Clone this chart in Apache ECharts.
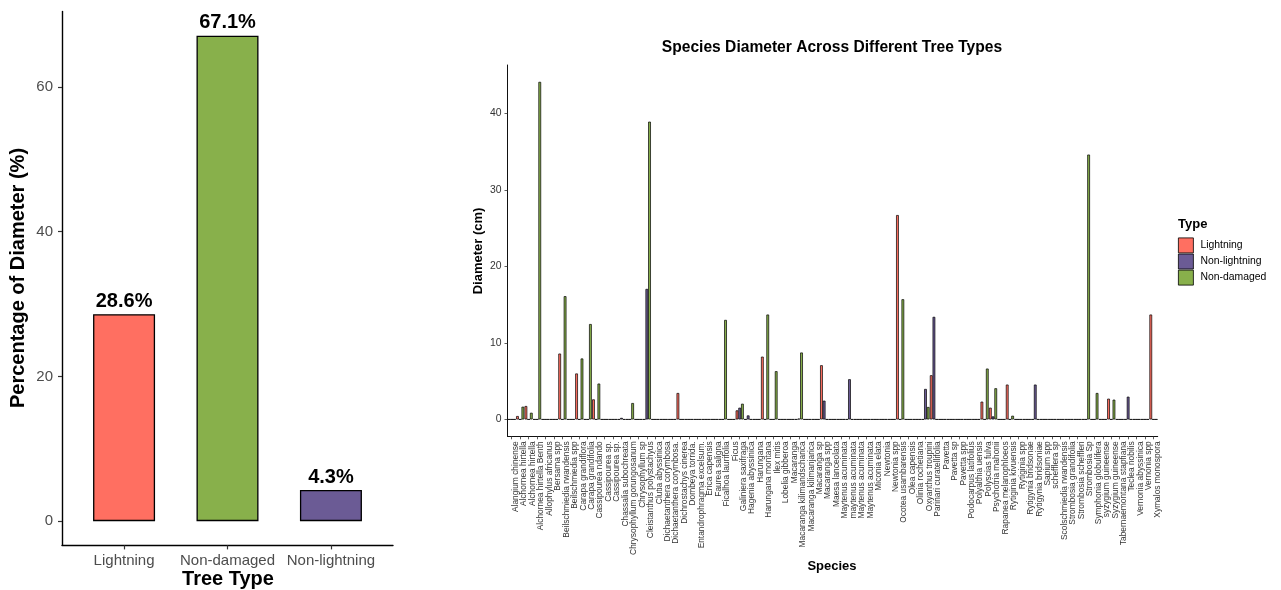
<!DOCTYPE html>
<html>
<head>
<meta charset="utf-8">
<script src="https://cdn.jsdelivr.net/npm/echarts@6/dist/echarts.min.js"></script>
<style>html,body{margin:0;padding:0;background:#fff}#c{width:1281px;height:590px}</style>
</head>
<body>
<div id="c"></div>
<script>
// ---- Left chart data ----
const treeTypes = ['Lightning', 'Non-damaged', 'Non-lightning'];
const pctDiameter = [28.6, 67.1, 4.3];
const leftTicks = [0, 20, 40, 60];

// ---- Right chart data ----
const species = [
 'Alangium chinense','Alchornea hirtella','Alchornea hirtella','Alchornea hirtella Benth','Allophylus africanus',
 'Bersama spp','Beilschmiedia rwandensis','Beilschmiedia spp','Carapa grandiflora','Carapa grandifolia',
 'Cassipourea ndando','Cassipourea sp.','Cassipourea sp.','Chassalia subochreata','Chrysophyllum gorungosanum',
 'Chrysophyllum sp','Cleistanthus polystachyus','Clutia abyssinica','Dichaetanthera corymbosa','Dichaetanthera corymbosa.',
 'Dichrostachys cinerea','Dombeya torrida.','Entandrophragma excelsum.','Erica capensis','Faurea saligna',
 'Ficalhoa laurifolia','Ficus','Galiniera saxifraga','Hagenia abyssinica','Harungana',
 'Harungana montana','Ilex mitis','Lobelia gibberoa','Macaranga','Macaranga kilimandscharica',
 'Macaranga kilimanjarica','Macaranga sp','Macaranga spp','Maesa lanceolata','Maytenus acuminata',
 'maytenus acuminata','Maytenus acuminata','Maytenus acuminata','Miconia elata','Newtonia',
 'Newtonia spp','Ocotea usambarensis','Olea capensis','Olinia rochetiana','Oxyanthus troupini',
 'Parinari curatellifolia','Pavetta','Pavetta sp','Pavetta spp','Podocarpus latifolius',
 'Polyalthia uensis','Polyscias fulva','Psychotria mahonii','Rapanea melanophloeos','Rytiginia kivuensis',
 'Rytiginia spp','Rytigynia bridsonae','Rytigynia bridsoniae','Sapium spp','schefflera sp',
 'Scolschmiedia rwandensis','Strombosia grandifolia','Strombosia scheffleri','Strombosia Sp','Symphonia globulifera',
 'syzygium guineense','Syzygium guineense','Tabernaemontana stapfiana','Teclea nobilis','Vernonia abyssinica',
 'Vernonia spp','Xymalos monospora'
];
const lightning = [
 0,0.44,1.75,0,0,0,8.6,0,6.0,0,
 2.62,0,0,0,0,0,0,0,0,0,
 3.45,0,0,0,0,0,0,1.18,0,0,
 8.2,0,0,0,0,0,0,7.08,0,0,
 0,0,0,0,0,0,26.7,0,0,0,
 5.77,0,0,0,0,0,2.32,1.53,0,4.55,
 0,0,0,0,0,0,0,0,0,0,
 0,2.71,0,0,0,0,13.7
];
const nonLightning = [
 0,0,0,0,0,0,0,0,0,0,
 0,0,0,0.2,0,0,17.05,0,0,0,
 0,0,0,0,0,0,0,1.53,0.52,0,
 0,0,0,0,0.1,0,0,2.45,0,0,
 5.25,0,0,0,0,0,0,0,0,3.98,
 13.4,0,0,0,0,0,0,0.39,0,0,
 0,0,4.55,0,0,0,0,0,0,0,
 0,0,0,2.97,0,0,0
];
const nonDamaged = [
 0,1.66,0.87,44.1,0,0,16.1,0,7.96,12.46,
 4.68,0,0,0,2.14,0,38.9,0,0,0,
 0,0,0,0,0,13.0,0,2.05,0,0,
 13.7,6.3,0,0,8.74,0,0,0,0,0,
 0,0,0,0,0,0,15.7,0,0,1.62,
 0,0,0,0,0,0,6.64,4.07,0,0.48,
 0,0,0,0,0,0,0,0,34.6,3.45,
 0,2.58,0,0,0,0,0
];
const rightTicks = [0, 10, 20, 30, 40];
const typeNames = ['Lightning', 'Non-lightning', 'Non-damaged'];

const COLORS = {'Lightning':'#FF6F61','Non-damaged':'#88B04B','Non-lightning':'#6B5B95'};
const FONT = '"Liberation Sans", Arial, Helvetica, sans-serif';
const GRAY = '#4D4D4D';

const chart = echarts.init(document.getElementById('c'), null, {renderer:'canvas'});

const leftMax = Math.max(...pctDiameter);
const rightMax = Math.max(...lightning, ...nonLightning, ...nonDamaged);

const rightSeriesData = [lightning, nonLightning, nonDamaged];

const option = {
  animation: false,
  textStyle: {fontFamily: FONT},
  grid: [
    {left: 62, top: 11.4, width: 331, height: 534, containLabel: false},
    {left: 507.5, top: 65, width: 650.2, height: 371.3, containLabel: false}
  ],
  xAxis: [
    {
      gridIndex: 0, type: 'value', min: 0.4, max: 3.6,
      splitLine: {show: false},
      axisLine: {show: true, onZero: false, lineStyle: {color: '#000', width: 1.4}},
      axisTick: {show: true, length: 4, lineStyle: {color: '#333', width: 1.2}, customValues: [1,2,3]},
      axisLabel: {
        customValues: [1,2,3], margin: 8, fontSize: 15, color: GRAY, fontFamily: FONT,
        formatter: v => treeTypes[Math.round(v) - 1]
      }
    },
    {
      gridIndex: 1, type: 'category', data: species, boundaryGap: true,
      axisLine: {show: true, onZero: false, lineStyle: {color: '#111', width: 1}},
      axisTick: {show: true, alignWithLabel: true, interval: 0, length: 3, lineStyle: {color: '#333', width: 0.8}},
      axisLabel: {
        interval: 0, rotate: 90, fontSize: 8.4, color: '#333', margin: 5, fontFamily: FONT,
        verticalAlign: 'top'
      }
    }
  ],
  yAxis: [
    {
      gridIndex: 0, type: 'value', min: -0.05 * leftMax, max: 1.05 * leftMax,
      splitLine: {show: false},
      axisLine: {show: true, onZero: false, lineStyle: {color: '#000', width: 1.4}},
      axisTick: {show: true, length: 4, lineStyle: {color: '#333', width: 1.2}, customValues: leftTicks},
      axisLabel: {customValues: leftTicks, margin: 9, fontSize: 15, color: GRAY, fontFamily: FONT}
    },
    {
      gridIndex: 1, type: 'value', min: -0.05 * rightMax, max: 1.05 * rightMax,
      splitLine: {show: false},
      axisLine: {show: true, onZero: false, lineStyle: {color: '#111', width: 1}},
      axisTick: {show: true, length: 3, lineStyle: {color: '#333', width: 0.8}, customValues: rightTicks},
      axisLabel: {customValues: rightTicks, margin: 6, fontSize: 10.4, color: '#333', fontFamily: FONT}
    }
  ],
  legend: {
    orient: 'vertical', left: 1178, top: 237.5, padding: 0, itemWidth: 15, itemHeight: 15, itemGap: 0.3,
    icon: 'rect', data: typeNames,
    itemStyle: {borderColor: '#000', borderWidth: 0.8},
    textStyle: {fontSize: 10.4, color: '#000', fontFamily: FONT, padding: [0,0,0,2]}
  },
  series: [
    {
      type: 'bar', xAxisIndex: 0, yAxisIndex: 0, barWidth: 62,
      data: pctDiameter.map((v, i) => ({value: [i + 1, v], itemStyle: {color: COLORS[treeTypes[i]]}})),
      itemStyle: {borderColor: '#000', borderWidth: 1.3},
      label: {
        show: true, position: 'top', distance: 3, fontSize: 20, fontWeight: 'bold', color: '#000',
        fontFamily: FONT, formatter: p => p.value[1].toFixed(1) + '%'
      }
    },
    ...typeNames.map((name, k) => ({
      type: 'bar', name: name, xAxisIndex: 1, yAxisIndex: 1,
      barWidth: 2.7, barGap: '0%',
      data: rightSeriesData[k],
      itemStyle: {color: COLORS[name], borderColor: '#000', borderWidth: 0.7}
    }))
  ],
  graphic: [
    {type: 'text', x: 18, y: 278, rotation: Math.PI / 2,
     style: {text: 'Percentage of Diameter (%)', font: 'bold 20px ' + FONT, fill: '#000', align: 'center', verticalAlign: 'middle'}},
    {type: 'text', x: 228, y: 579,
     style: {text: 'Tree Type', font: 'bold 20px ' + FONT, fill: '#000', align: 'center', verticalAlign: 'middle'}},
    {type: 'text', x: 832, y: 48,
     style: {text: 'Species Diameter Across Different Tree Types', font: 'bold 15.6px ' + FONT, fill: '#000', align: 'center', verticalAlign: 'middle'}},
    {type: 'text', x: 478, y: 251, rotation: Math.PI / 2,
     style: {text: 'Diameter (cm)', font: 'bold 13px ' + FONT, fill: '#000', align: 'center', verticalAlign: 'middle'}},
    {type: 'text', x: 832, y: 566,
     style: {text: 'Species', font: 'bold 13px ' + FONT, fill: '#000', align: 'center', verticalAlign: 'middle'}},
    {type: 'text', x: 1178, y: 224,
     style: {text: 'Type', font: 'bold 13px ' + FONT, fill: '#000', align: 'left', verticalAlign: 'middle'}}
  ]
};
chart.setOption(option);
</script>
</body>
</html>
